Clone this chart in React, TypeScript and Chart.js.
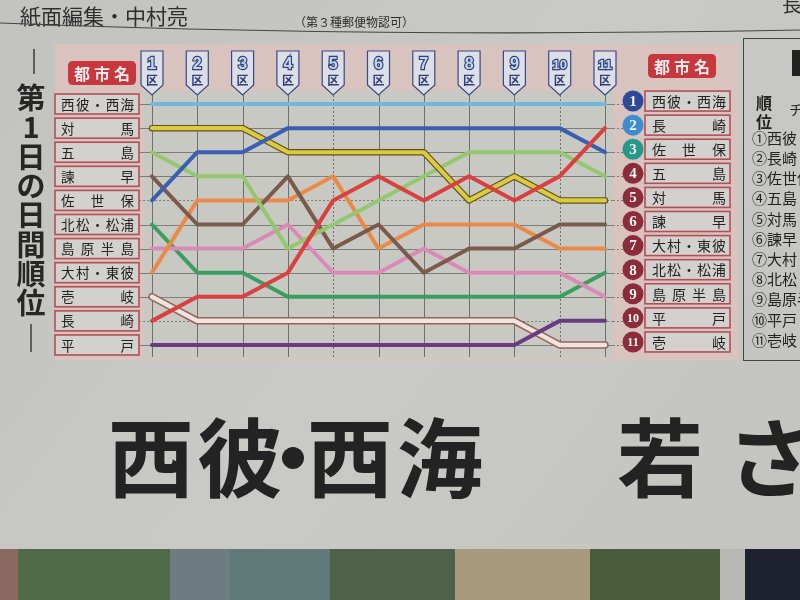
import React, { useEffect, useRef } from 'react';
import { Chart, registerables } from 'chart.js';

Chart.register(...registerables);

// ---- data ----
const districtNumbers = ['1', '2', '3', '4', '5', '6', '7', '8', '9', '10', '11'];
const districtSuffix = '区';

const rankSeihiSaikai = [1, 1, 1, 1, 1, 1, 1, 1, 1, 1, 1];
const rankTsushima = [2, 2, 2, 3, 3, 3, 3, 5, 4, 5, 5];
const rankNagasaki = [10, 9, 9, 8, 5, 4, 5, 4, 5, 4, 2];
const rankSasebo = [5, 3, 3, 2, 2, 2, 2, 2, 2, 2, 3];
const rankGoto = [3, 4, 4, 7, 6, 5, 4, 3, 3, 3, 4];
const rankIsahaya = [4, 6, 6, 4, 7, 6, 8, 7, 7, 6, 6];
const rankOmura = [8, 5, 5, 5, 4, 7, 6, 6, 6, 7, 7];
const rankHokusho = [6, 8, 8, 9, 9, 9, 9, 9, 9, 9, 8];
const rankShimabara = [7, 7, 7, 6, 8, 8, 7, 8, 8, 8, 9];
const rankIki = [9, 10, 10, 10, 10, 10, 10, 10, 10, 11, 11];
const rankHirado = [11, 11, 11, 11, 11, 11, 11, 11, 11, 10, 10];

const leftLabels = ['西彼・西海', '対馬', '五島', '諫早', '佐世保', '北松・松浦', '島原半島', '大村・東彼', '壱岐', '長崎', '平戸'];
const rightLabels = ['西彼・西海', '長崎', '佐世保', '五島', '対馬', '諫早', '大村・東彼', '北松・松浦', '島原半島', '平戸', '壱岐'];
const sideList = ['①西彼・西海', '②長崎', '③佐世保', '④五島', '⑤対馬', '⑥諫早', '⑦大村・東彼', '⑧北松・松浦', '⑨島原半島', '⑩平戸', '⑪壱岐'];
const headerText = '紙面編集・中村亮';
const noteText = '（第３種郵便物認可）';
const sideTitle = ['第', '1', '日', 'の', '日', '間', '順', '位'];
const headlineChars = ['西', '彼', '・', '西', '海', '若', 'さ'];

const JP = '"Noto Sans CJK JP", "Noto Sans", sans-serif';

function justify(ctx: CanvasRenderingContext2D, s: string, x0: number, x1: number, cy: number, fs: number) {
  const chars = Array.from(s);
  ctx.textAlign = 'center';
  ctx.textBaseline = 'middle';
  if (chars.length === 1) {
    ctx.fillText(chars[0], (x0 + x1) / 2, cy);
    return;
  }
  const step = (x1 - x0 - fs) / (chars.length - 1);
  chars.forEach((c, i) => ctx.fillText(c, x0 + fs / 2 + i * step, cy));
}

function roundRect(ctx: CanvasRenderingContext2D, x: number, y: number, w: number, h: number, r: number) {
  ctx.beginPath();
  ctx.moveTo(x + r, y);
  ctx.lineTo(x + w - r, y);
  ctx.quadraticCurveTo(x + w, y, x + w, y + r);
  ctx.lineTo(x + w, y + h - r);
  ctx.quadraticCurveTo(x + w, y + h, x + w - r, y + h);
  ctx.lineTo(x + r, y + h);
  ctx.quadraticCurveTo(x, y + h, x, y + h - r);
  ctx.lineTo(x, y + r);
  ctx.quadraticCurveTo(x, y, x + r, y);
  ctx.closePath();
}

const backgroundPlugin = {
  id: 'newspaperBackground',
  beforeDraw(chart: any) {
    const ctx: CanvasRenderingContext2D = chart.ctx;
    const xs = chart.scales.x;
    const ys = chart.scales.y;
    const W = chart.width;
    const H = chart.height;
    ctx.save();

    // paper
    const g = ctx.createLinearGradient(0, 0, W, H);
    g.addColorStop(0, '#c2c3be');
    g.addColorStop(0.5, '#c9cac5');
    g.addColorStop(1, '#c3c4bf');
    ctx.fillStyle = g;
    ctx.fillRect(0, 0, W, H);

    // header
    ctx.fillStyle = '#2e2e2e';
    ctx.font = `21px ${JP}`;
    ctx.textAlign = 'left';
    ctx.textBaseline = 'middle';
    ctx.fillText(headerText, 20, 16);
    ctx.font = `12px ${JP}`;
    ctx.fillText(noteText, 294, 22);
    ctx.font = `20px ${JP}`;
    ctx.fillText('長', 782, 4);
    ctx.strokeStyle = '#444';
    ctx.lineWidth = 1.2;
    ctx.beginPath();
    ctx.moveTo(0, 23);
    ctx.quadraticCurveTo(380, 38, 800, 30);
    ctx.stroke();

    // pink panel
    ctx.fillStyle = '#d8c3be';
    ctx.fillRect(55, 44, 684, 316);

    const xFirst = xs.getPixelForValue(0);
    const xLast = xs.getPixelForValue(districtNumbers.length - 1);
    const yFirst = ys.getPixelForValue(1);
    const yLast = ys.getPixelForValue(11);
    const rowH = ys.getPixelForValue(2) - yFirst;

    // plot area
    ctx.fillStyle = '#c9c9c4';
    ctx.fillRect(xFirst - 8, yFirst - rowH * 0.55, xLast - xFirst + 16, yLast - yFirst + rowH * 1.05);

    // horizontal grid
    ctx.lineWidth = 1;
    for (let r = 1; r <= 11; r++) {
      const py = Math.round(ys.getPixelForValue(r)) + 0.5;
      ctx.strokeStyle = '#7d7d7a';
      ctx.setLineDash(r === 5 || r === 10 ? [2, 2] : []);
      ctx.beginPath();
      ctx.moveTo(139, py);
      ctx.lineTo(xLast + 8, py);
      ctx.stroke();
      ctx.setLineDash([2, 2]);
      ctx.beginPath();
      ctx.moveTo(xLast + 8, py);
      ctx.lineTo(623, py);
      ctx.stroke();
    }
    // vertical grid
    districtNumbers.forEach((_, i) => {
      const px = Math.round(xs.getPixelForValue(i)) + 0.5;
      ctx.strokeStyle = '#6f6f6c';
      ctx.setLineDash(i === 4 || i === 9 ? [2, 2] : []);
      ctx.beginPath();
      ctx.moveTo(px, 95);
      ctx.lineTo(px, yLast + rowH * 0.5);
      ctx.stroke();
    });
    ctx.setLineDash([]);

    // 都市名 badges
    const badge = (bx: number, by: number) => {
      ctx.fillStyle = '#c8363e';
      roundRect(ctx, bx, by, 68, 24, 5);
      ctx.fill();
      ctx.fillStyle = '#f4ecec';
      ctx.font = `bold 16px ${JP}`;
      justify(ctx, '都市名', bx + 6, bx + 62, by + 12.5, 16);
    };
    badge(68, 61);
    badge(648, 54);

    // left boxes
    leftLabels.forEach((lab, i) => {
      const cy = ys.getPixelForValue(i + 1);
      ctx.fillStyle = '#d3d1cd';
      ctx.fillRect(55, cy - 10, 84, 20);
      ctx.strokeStyle = '#b24f58';
      ctx.lineWidth = 1.6;
      ctx.strokeRect(55, cy - 10, 84, 20);
      ctx.fillStyle = '#222';
      ctx.font = `13.5px ${JP}`;
      justify(ctx, lab, 61, 134, cy + 0.5, 13.5);
    });

    // right circles + boxes
    rightLabels.forEach((lab, i) => {
      const cy = ys.getPixelForValue(i + 1) - 3;
      ctx.fillStyle = '#d3d1cd';
      ctx.fillRect(645, cy - 10, 85, 20);
      ctx.strokeStyle = '#b24f58';
      ctx.lineWidth = 1.6;
      ctx.strokeRect(645, cy - 10, 85, 20);
      ctx.fillStyle = '#222';
      ctx.font = `14px ${JP}`;
      justify(ctx, lab, 652, 726, cy + 0.5, 14);
      const col = i === 0 ? '#2d4a98' : i === 1 ? '#3c8ccf' : i === 2 ? '#27998a' : '#8a2c39';
      ctx.fillStyle = col;
      ctx.beginPath();
      ctx.arc(633, cy, 10.5, 0, Math.PI * 2);
      ctx.fill();
      ctx.fillStyle = '#f6f2f0';
      ctx.font = `bold ${i >= 9 ? 12 : 15}px "Liberation Serif", "DejaVu Serif", serif`;
      ctx.textAlign = 'center';
      ctx.textBaseline = 'middle';
      ctx.fillText(String(i + 1), 633, cy + 1);
    });

    // flags
    districtNumbers.forEach((num, i) => {
      const cx = xs.getPixelForValue(i);
      ctx.beginPath();
      ctx.moveTo(cx - 11, 51);
      ctx.lineTo(cx + 11, 51);
      ctx.lineTo(cx + 11, 85);
      ctx.lineTo(cx, 95);
      ctx.lineTo(cx - 11, 85);
      ctx.closePath();
      ctx.fillStyle = '#dcdfe6';
      ctx.fill();
      ctx.strokeStyle = '#3a4984';
      ctx.lineWidth = 1.2;
      ctx.stroke();
      ctx.textAlign = 'center';
      ctx.textBaseline = 'middle';
      ctx.font = `bold ${num.length > 1 ? 13 : 16}px "Liberation Sans", "DejaVu Sans", sans-serif`;
      ctx.lineWidth = 2.4;
      ctx.strokeStyle = '#33427c';
      ctx.strokeText(num, cx, 65);
      ctx.fillStyle = '#c3d8ee';
      ctx.fillText(num, cx, 65);
      ctx.font = `bold 12px ${JP}`;
      ctx.fillStyle = '#2f3e78';
      ctx.fillText(districtSuffix, cx, 80);
    });

    // vertical side title
    ctx.fillStyle = '#262626';
    ctx.font = `bold 29px ${JP}`;
    ctx.textAlign = 'center';
    ctx.textBaseline = 'middle';
    sideTitle.forEach((c, i) => ctx.fillText(c, 31, 98 + i * 29.3));
    ctx.strokeStyle = '#333';
    ctx.lineWidth = 1.4;
    ctx.beginPath();
    ctx.moveTo(34, 49);
    ctx.lineTo(34, 74);
    ctx.moveTo(31, 324);
    ctx.lineTo(31, 352);
    ctx.stroke();

    // right partial column
    ctx.strokeStyle = '#444';
    ctx.lineWidth = 1;
    ctx.strokeRect(743.5, 38.5, 70, 322);
    ctx.fillStyle = '#222';
    ctx.fillRect(792, 50, 10, 26);
    ctx.font = `bold 16px ${JP}`;
    ctx.fillText('順', 764, 103);
    ctx.fillText('位', 764, 122);
    ctx.font = `14px ${JP}`;
    ctx.fillText('チ', 796, 110);
    ctx.textAlign = 'left';
    ctx.font = `15px ${JP}`;
    sideList.forEach((s, i) => ctx.fillText(s, 752, 138 + i * 20.2));

    // headline
    ctx.fillStyle = '#232323';
    ctx.font = `bold 86px ${JP}`;
    ctx.textAlign = 'center';
    ctx.textBaseline = 'middle';
    const hx = [151, 240, 293, 350, 440, 660, 770];
    headlineChars.forEach((c, i) => ctx.fillText(c, hx[i], 458));

    // photo strip at bottom
    const strip: [number, number, string][] = [
      [0, 18, '#8a6a60'],
      [18, 170, '#4f6a47'],
      [170, 230, '#6c7c80'],
      [230, 330, '#5f7a78'],
      [330, 455, '#4d6248'],
      [455, 590, '#a89a7c'],
      [590, 720, '#4a5c3c'],
      [720, 745, '#b8b9b4'],
      [745, 800, '#1e2230'],
    ];
    strip.forEach(([a, b, c]) => {
      ctx.fillStyle = c;
      ctx.fillRect(a, 549, b - a, 51);
    });

    ctx.restore();
  },
};

type Series = { data: number[]; color: string; width?: number; order?: number };

export default function App() {
  const ref = useRef<HTMLCanvasElement | null>(null);

  useEffect(() => {
    document.body.style.margin = '0';
    const canvas = ref.current;
    if (!canvas) return;

    const series: Series[] = [
      { data: rankIki, color: '#9c6158', width: 7.5, order: 20 },
      { data: rankIki, color: '#ebe6e0', width: 4.5, order: 19 },
      { data: rankHirado, color: '#6b3a82', order: 10 },
      { data: rankHokusho, color: '#3a9f5e', order: 9 },
      { data: rankShimabara, color: '#d98ab6', order: 8 },
      { data: rankOmura, color: '#e98a48', order: 7 },
      { data: rankIsahaya, color: '#7a5b4b', order: 6 },
      { data: rankGoto, color: '#93c86e', order: 5 },
      { data: rankTsushima, color: '#5f5220', width: 6.5, order: 4.5 },
      { data: rankTsushima, color: '#dccb3e', width: 4.2, order: 4 },
      { data: rankSasebo, color: '#3a5eb2', order: 3 },
      { data: rankSeihiSaikai, color: '#72b8d9', order: 2 },
      { data: rankNagasaki, color: '#d9403f', order: 1 },
    ];

    const chart = new Chart(canvas, {
      type: 'line',
      data: {
        labels: districtNumbers.map((d) => d + districtSuffix),
        datasets: series.map((s) => ({
          data: s.data,
          borderColor: s.color,
          backgroundColor: s.color,
          borderWidth: s.width ?? 4,
          order: s.order,
          pointRadius: 0,
          tension: 0,
          fill: false,
          clip: false as any,
          borderCapStyle: 'round' as const,
          borderJoinStyle: 'round' as const,
        })),
      },
      options: {
        animation: false,
        responsive: false,
        maintainAspectRatio: false,
        devicePixelRatio: 1,
        layout: { padding: { left: 152, right: 195, top: 92, bottom: 243 } },
        plugins: { legend: { display: false }, tooltip: { enabled: false } },
        scales: {
          x: { type: 'category', display: false, offset: false },
          y: { type: 'linear', display: false, reverse: true, min: 0.5, max: 11.5 },
        },
      },
      plugins: [backgroundPlugin],
    });
    return () => chart.destroy();
  }, []);

  return <canvas ref={ref} width={800} height={600} style={{ display: 'block' }} />;
}
